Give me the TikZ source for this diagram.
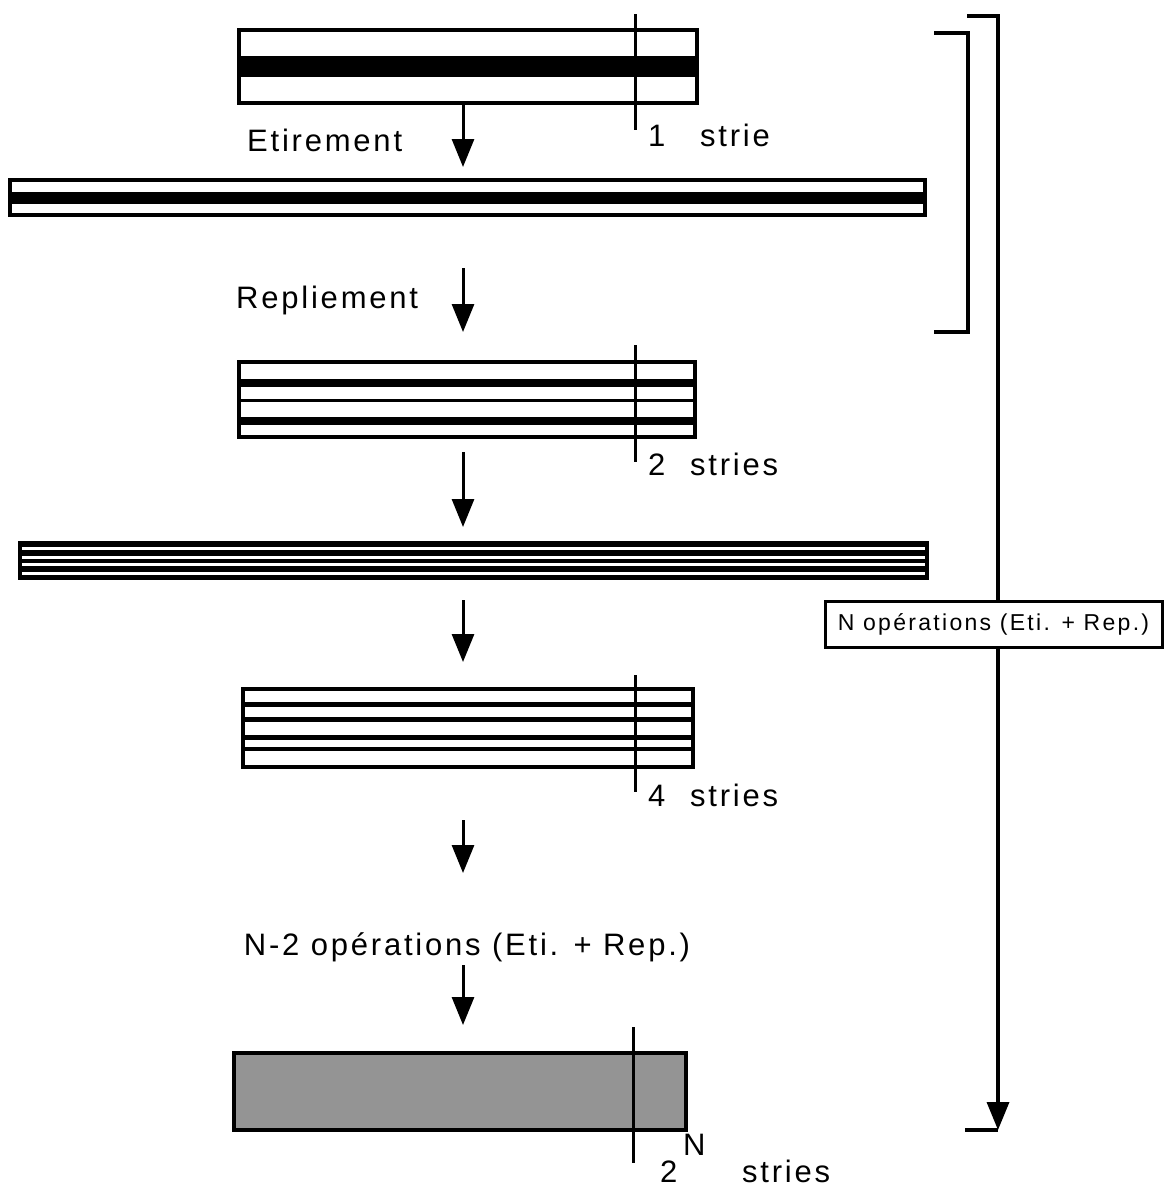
\documentclass[tikz,border=0pt]{standalone}
\usepackage{fontspec}
\setmainfont{Liberation Sans}
\newfontfamily\lsfont[LetterSpace=9]{Liberation Sans}
\newfontfamily\lsbox[LetterSpace=10]{Liberation Sans}
\usetikzlibrary{arrows.meta}
\begin{document}
\begin{tikzpicture}[x=1pt,y=-1pt,
  blk/.style={draw,line width=3.5pt,inner sep=0pt,outer sep=0pt,rectangle},
  arr/.style={line width=3pt,-{Triangle[width=22pt,length=28pt]}},
  tick/.style={line width=3pt},
  brk/.style={line width=3.5pt},
  lbl/.style={font=\lsfont\fontsize{31}{37}\selectfont,inner sep=0pt},
  boxlbl/.style={font=\lsbox\fontsize{23}{27}\selectfont}
]
\useasboundingbox (0,0) rectangle (1168,1191);

% ---- block 1 : 1 strie
\node[blk,minimum width=458pt,minimum height=73pt] (b1) at (468,66.5) {};
\fill (239,56) rectangle (697,77);
\coordinate (t1a) at (635,14); \coordinate (t1b) at (635,130);
\draw[tick] (t1a) -- (t1b);
\node[lbl,anchor=base west] (n1) at (648,146) {1};
\node[lbl,anchor=base west] (s1) at (700,146) {strie};
\node[lbl,anchor=base west] (eti) at (247,151) {Etirement};
\coordinate (a1e) at (463,167);
\draw[arr] (b1.south -| a1e) -- (a1e);

% ---- bar 2 : stretched
\node[blk,line width=4pt,minimum width=915pt,minimum height=35pt] (b2) at (467.5,197.5) {};
\fill (10,192) rectangle (925,204);

% ---- Repliement
\node[lbl,anchor=base west] (rep) at (236,308) {Repliement};
\coordinate (a2s) at (463,268); \coordinate (a2e) at (463,332);
\draw[arr] (a2s) -- (a2e);

% ---- block 3 : 2 stries
\node[blk,minimum width=456pt,minimum height=75pt] (b3) at (467,399.5) {};
\fill (239,379) rectangle (695,387);
\fill (239,399) rectangle (695,402);
\fill (239,417) rectangle (695,425);
\coordinate (t3a) at (635,345); \coordinate (t3b) at (635,462);
\draw[tick] (t3a) -- (t3b);
\node[lbl,anchor=base west] (n3) at (648,475) {2};
\node[lbl,anchor=base west] (s3) at (690,475) {stries};
\coordinate (a3s) at (463,452); \coordinate (a3e) at (463,527);
\draw[arr] (a3s) -- (a3e);

% ---- bar 4 : stretched
\node[blk,line width=4pt,fill=black,minimum width=907pt,minimum height=35pt] (b4) at (473.5,560.5) {};
\fill[white] (22,546.5) rectangle (925,549.5);
\fill[white] (22,556) rectangle (925,559);
\fill[white] (22,563) rectangle (925,566);
\fill[white] (22,572) rectangle (925,575);
\coordinate (a4s) at (463,600); \coordinate (a4e) at (463,662);
\draw[arr] (a4s) -- (a4e);

% ---- block 5 : 4 stries
\node[blk,minimum width=450pt,minimum height=78pt] (b5) at (468,728) {};
\fill (243,702) rectangle (693,707);
\fill (243,717) rectangle (693,722);
\fill (243,735) rectangle (693,740);
\fill (243,747) rectangle (693,751);
\coordinate (t5a) at (635,675); \coordinate (t5b) at (635,792);
\draw[tick] (t5a) -- (t5b);
\node[lbl,anchor=base west] (n5) at (648,806) {4};
\node[lbl,anchor=base west] (s5) at (690,806) {stries};
\coordinate (a5s) at (463,820); \coordinate (a5e) at (463,873);
\draw[arr] (a5s) -- (a5e);

% ---- N-2 operations
\node[lbl,anchor=base] (nm2) at (467,955) {N-2 opérations (Eti. + Rep.)};
\coordinate (a6s) at (463,965); \coordinate (a6e) at (463,1025);
\draw[arr] (a6s) -- (a6e);

% ---- final block
\node[blk,fill=black!42,minimum width=452pt,minimum height=77pt] (b6) at (460,1091.5) {};
\coordinate (t6a) at (633,1027); \coordinate (t6b) at (633,1163);
\draw[tick] (t6a) -- (t6b);
\node[lbl,anchor=base west] (n6) at (660,1182) {2};
\node[lbl,anchor=base west] (e6) at (683,1155) {N};
\node[lbl,anchor=base west] (s6) at (742,1182) {stries};

% ---- inner bracket
\coordinate (i1) at (934,33); \coordinate (i2) at (968,33);
\coordinate (i3) at (968,332); \coordinate (i4) at (934,332);
\draw[brk] (i1) -- (i2) -- (i3) -- (i4);

% ---- outer bracket with N operations box
\node[draw,line width=3pt,fill=white,minimum width=337pt,minimum height=46pt,inner sep=0pt,boxlbl] (nb) at (993.5,624) {N opérations (Eti. + Rep.)};
\coordinate (o1) at (967,16); \coordinate (o2) at (998,16);
\coordinate (o3) at (998,1130); \coordinate (o4) at (965,1130);
\draw[brk] (o1) -- (o2) -- (o2 |- nb.north);
\draw[brk,-{Triangle[width=22pt,length=28pt]}] (o3 |- nb.south) -- (o3);
\draw[brk] (o4) -- (o3);
\end{tikzpicture}
\end{document}
